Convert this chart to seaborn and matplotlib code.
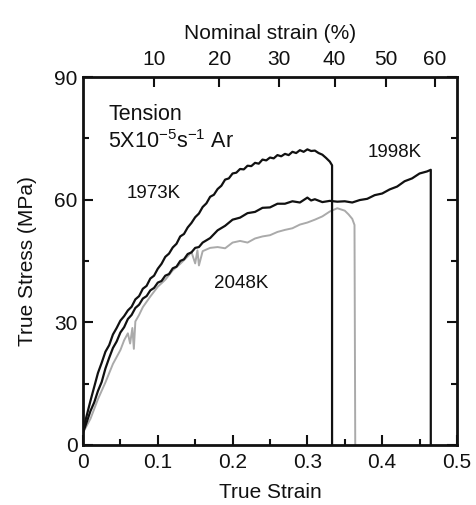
import numpy as np
import matplotlib
matplotlib.use('Agg')
import matplotlib.pyplot as plt
import seaborn as sns

# 1973K curve (true strain, true stress MPa)
strain_1973 = [0.000, 0.005, 0.010, 0.015, 0.020, 0.025, 0.030, 0.035, 0.040, 0.045,
               0.050, 0.055, 0.060, 0.065, 0.070, 0.075, 0.080, 0.085, 0.090, 0.095,
               0.100, 0.105, 0.110, 0.115, 0.120, 0.125, 0.130, 0.135, 0.140, 0.145,
               0.150, 0.155, 0.160, 0.165, 0.170, 0.175, 0.180, 0.185, 0.190, 0.195,
               0.200, 0.205, 0.210, 0.215, 0.220, 0.225, 0.230, 0.235, 0.240, 0.245,
               0.250, 0.255, 0.260, 0.265, 0.270, 0.275, 0.280, 0.285, 0.290, 0.295,
               0.300, 0.305, 0.310, 0.315, 0.320, 0.325, 0.330, 0.333, 0.333]
stress_1973 = [3.5, 7.2, 10.8, 14.2, 17.6, 20.1, 22.8, 24.4, 27.0, 28.6,
               30.4, 31.5, 32.9, 33.8, 35.6, 36.4, 38.2, 38.9, 40.7, 41.4,
               43.1, 44.3, 46.0, 46.8, 48.3, 49.2, 51.0, 51.6, 53.2, 54.3,
               55.7, 56.6, 58.2, 59.1, 60.7, 61.2, 62.6, 63.4, 64.9, 65.2,
               66.4, 66.6, 67.5, 67.4, 68.3, 68.2, 69.0, 68.8, 69.8, 69.6,
               70.3, 70.1, 70.9, 70.6, 71.2, 70.9, 71.7, 71.4, 72.1, 71.7,
               72.3, 71.9, 72.0, 71.4, 71.0, 70.2, 69.3, 68.4, 0.0]

# 1998K curve
strain_1998 = [0.000, 0.005, 0.010, 0.015, 0.020, 0.025, 0.030, 0.035, 0.040, 0.045,
               0.050, 0.055, 0.060, 0.065, 0.070, 0.075, 0.080, 0.085, 0.090, 0.095,
               0.100, 0.105, 0.110, 0.115, 0.120, 0.125, 0.130, 0.135, 0.140, 0.145,
               0.150, 0.155, 0.160, 0.170, 0.180, 0.190, 0.200, 0.210, 0.220, 0.230,
               0.240, 0.250, 0.260, 0.270, 0.280, 0.290, 0.295, 0.300, 0.305, 0.310,
               0.320, 0.330, 0.340, 0.350, 0.360, 0.370, 0.380, 0.390, 0.400, 0.410,
               0.420, 0.430, 0.440, 0.450, 0.460, 0.465, 0.465]
stress_1998 = [3.0, 5.6, 8.3, 10.4, 13.2, 15.4, 18.7, 21.3, 23.7, 25.3,
               27.5, 28.8, 30.8, 31.8, 33.5, 34.3, 35.8, 36.4, 37.8, 38.4,
               39.7, 40.1, 41.4, 41.8, 43.2, 43.6, 45.0, 45.4, 46.7, 47.1,
               48.2, 48.4, 49.5, 50.6, 52.5, 53.6, 55.1, 55.6, 56.7, 57.0,
               58.0, 58.1, 59.0, 59.0, 59.6, 59.3, 59.9, 60.5, 59.8, 60.1,
               59.4, 59.7, 59.5, 59.6, 59.3, 59.9, 60.2, 61.1, 61.5, 62.5,
               63.2, 64.5, 65.2, 66.4, 66.9, 67.3, 0.0]

# 2048K curve
strain_2048 = [0.000, 0.010, 0.020, 0.030, 0.040, 0.050, 0.055, 0.060, 0.063, 0.066,
               0.068, 0.070, 0.075, 0.080, 0.090, 0.100, 0.110, 0.120, 0.130, 0.140,
               0.145, 0.150, 0.153, 0.155, 0.160, 0.170, 0.180, 0.190, 0.200, 0.210,
               0.220, 0.230, 0.240, 0.250, 0.260, 0.270, 0.280, 0.290, 0.300, 0.310,
               0.320, 0.330, 0.340, 0.345, 0.350, 0.355, 0.360, 0.363, 0.364]
stress_2048 = [3.0, 6.4, 11.2, 15.3, 19.8, 23.2, 25.6, 27.3, 24.8, 28.6,
               23.5, 30.2, 31.8, 33.7, 36.3, 38.7, 40.4, 42.7, 44.3, 46.1,
               47.2, 44.4, 47.6, 43.9, 47.4, 48.2, 48.4, 48.1, 49.5, 49.9,
               49.5, 50.5, 51.0, 51.3, 52.1, 52.6, 53.0, 53.9, 54.4, 55.1,
               55.9, 57.1, 57.9, 57.6, 57.3, 56.4, 55.3, 53.8, 0.0]

labels = ["1973K", "1998K", "2048K"]
y_ticks = [0, 30, 60, 90]
x_ticks = [0, 0.1, 0.2, 0.3, 0.4, 0.5]
nominal_ticks = [10, 20, 30, 40, 50, 60]

sns.set_style("ticks")
plt.rcParams['font.family'] = ['Liberation Sans', 'DejaVu Sans']
plt.rcParams['mathtext.default'] = 'regular'
plt.rcParams['text.color'] = '#111111'
plt.rcParams['axes.labelcolor'] = '#111111'
plt.rcParams['xtick.labelcolor'] = '#111111'
plt.rcParams['ytick.labelcolor'] = '#111111'

fig = plt.figure(figsize=(4.77, 5.05), dpi=100)
ax = fig.add_axes([0.174, 0.119, 0.784, 0.7285])

sns.lineplot(x=strain_2048, y=stress_2048, sort=False, estimator=None,
             color='#aaaaaa', linewidth=1.4, ax=ax)
sns.lineplot(x=strain_1998, y=stress_1998, sort=False, estimator=None,
             color='#111111', linewidth=1.6, ax=ax)
sns.lineplot(x=strain_1973, y=stress_1973, sort=False, estimator=None,
             color='#111111', linewidth=1.6, ax=ax)

ax.set_xlim(0, 0.5)
ax.set_ylim(0, 90)
ax.set_xticks(x_ticks)
ax.set_xticklabels(['0', '0.1', '0.2', '0.3', '0.4', '0.5'])
ax.set_yticks(y_ticks)
ax.set_xticks(np.arange(0, 0.51, 0.05), minor=True)
ax.set_yticks(np.arange(0, 91, 15), minor=True)
ax.tick_params(which='both', direction='in', right=True, top=False, width=1.5,
               labelsize=15, color='#111111')
ax.tick_params(which='major', length=7)
ax.tick_params(which='minor', length=4)
ax.tick_params(axis='y', pad=4)
ax.tick_params(axis='x', pad=6)
for s in ax.spines.values():
    s.set_visible(True)
    s.set_linewidth(2)
    s.set_color('#111111')

ax.set_xlabel("True Strain", fontsize=15, labelpad=8)
ax.set_ylabel("True Stress (MPa)", fontsize=15, labelpad=12)

top = ax.secondary_xaxis('top', functions=(lambda x: (np.exp(x) - 1) * 100,
                                           lambda n: np.log1p(n / 100)))
top.set_xticks(nominal_ticks)
top.tick_params(direction='in', length=7, width=1.5, labelsize=15, pad=6,
                color='#111111')
top.set_xlabel("Nominal strain (%)", fontsize=15, labelpad=8)
top.spines['top'].set_visible(False)

ax.text(0.034, 79.5, "Tension", fontsize=15.5)
ax.text(0.033, 72.6, r"5X10$^{-5}$s$^{-1}$ Ar", fontsize=15.5)
ax.text(0.058, 60.4, labels[0], fontsize=13.5)
ax.text(0.381, 70.5, labels[1], fontsize=13.5)
ax.text(0.175, 38.4, labels[2], fontsize=13.5)

fig.savefig("out.png", dpi=100)
